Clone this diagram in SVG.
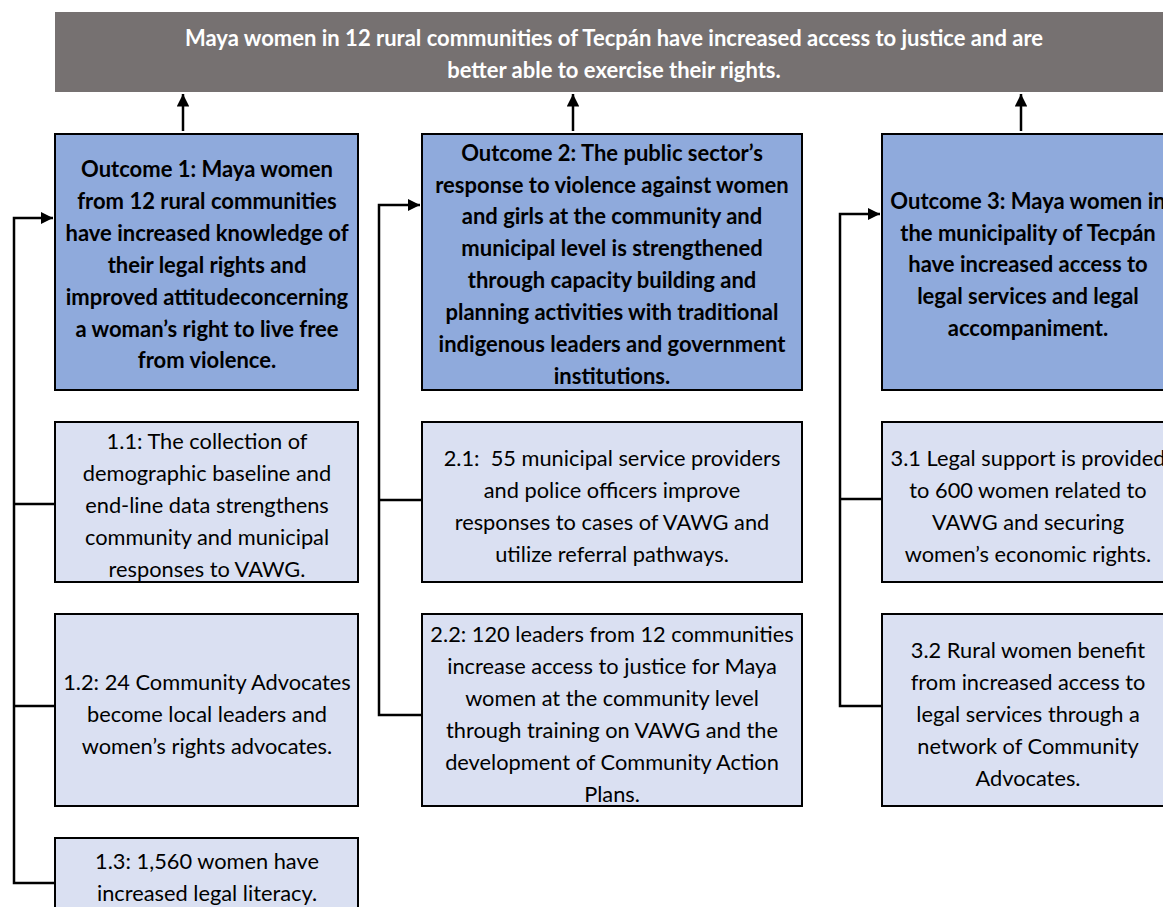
<svg xmlns="http://www.w3.org/2000/svg" width="1163" height="907" viewBox="0 0 1163 907">
<defs>
<marker id="ah" viewBox="0 0 10 10" refX="10" refY="5" markerWidth="5" markerHeight="5" orient="auto" markerUnits="strokeWidth">
<path d="M0,0 L10,5 L0,10 z" fill="#000"/>
</marker>
<style>
.goal{fill:#767171}
.out{fill:#8faadc;stroke:#000;stroke-width:2}
.op{fill:#dae0f2;stroke:#000;stroke-width:2}
.tw{font-family:Lato,"Liberation Sans",sans-serif;font-weight:bold;font-size:22px;fill:#fff;text-anchor:middle}
.tb{font-family:Lato,"Liberation Sans",sans-serif;font-weight:bold;font-size:22px;fill:#000;text-anchor:middle}
.tr{font-family:Lato,"Liberation Sans",sans-serif;font-size:21.8px;fill:#000;text-anchor:middle}
.c{fill:none;stroke:#000;stroke-width:2.5}
</style>
</defs>
<rect width="1163" height="907" fill="#fff"/>
<g id="goal">
<rect class="goal" x="55" y="12" width="1120" height="80"/>
<text class="tw" x="614" y="46">Maya women in 12 rural communities of Tecpán have increased access to justice and are</text>
<text class="tw" x="614" y="78">better able to exercise their rights.</text>
</g>
<g id="outcome1">
<rect class="out" x="55" y="134" width="303" height="256"/>
<text class="tb" x="207" y="177">Outcome 1: Maya women</text>
<text class="tb" x="207" y="209">from 12 rural communities</text>
<text class="tb" x="207" y="241">have increased knowledge of</text>
<text class="tb" x="207" y="273">their legal rights and</text>
<text class="tb" x="207" y="305">improved attitudeconcerning</text>
<text class="tb" x="207" y="337">a woman’s right to live free</text>
<text class="tb" x="207" y="368">from violence.</text>
</g>
<g id="outcome2">
<rect class="out" x="422" y="134" width="380" height="256"/>
<text class="tb" x="612" y="161">Outcome 2: The public sector’s</text>
<text class="tb" x="612" y="193">response to violence against women</text>
<text class="tb" x="612" y="224">and girls at the community and</text>
<text class="tb" x="612" y="256">municipal level is strengthened</text>
<text class="tb" x="612" y="288">through capacity building and</text>
<text class="tb" x="612" y="320">planning activities with traditional</text>
<text class="tb" x="612" y="352">indigenous leaders and government</text>
<text class="tb" x="612" y="384">institutions.</text>
</g>
<g id="outcome3">
<rect class="out" x="882" y="134" width="292" height="256"/>
<text class="tb" x="1028" y="209">Outcome 3: Maya women in</text>
<text class="tb" x="1028" y="241">the municipality of Tecpán</text>
<text class="tb" x="1028" y="272">have increased access to</text>
<text class="tb" x="1028" y="304">legal services and legal</text>
<text class="tb" x="1028" y="336">accompaniment.</text>
</g>
<g id="output1-1">
<rect class="op" x="55" y="422" width="303" height="160"/>
<text class="tr" x="207" y="449">1.1: The collection of</text>
<text class="tr" x="207" y="481">demographic baseline and</text>
<text class="tr" x="207" y="513">end-line data strengthens</text>
<text class="tr" x="207" y="545">community and municipal</text>
<text class="tr" x="207" y="577">responses to VAWG.</text>
</g>
<g id="output1-2">
<rect class="op" x="55" y="614" width="303" height="192"/>
<text class="tr" x="207" y="690">1.2: 24 Community Advocates</text>
<text class="tr" x="207" y="722">become local leaders and</text>
<text class="tr" x="207" y="754">women’s rights advocates.</text>
</g>
<g id="output1-3">
<rect class="op" x="55" y="838" width="303" height="90"/>
<text class="tr" x="207" y="869">1.3: 1,560 women have</text>
<text class="tr" x="207" y="901">increased legal literacy.</text>
</g>
<g id="output2-1">
<rect class="op" x="422" y="422" width="380" height="160"/>
<text class="tr" x="612" y="466">2.1:&#160; 55 municipal service providers</text>
<text class="tr" x="612" y="498">and police officers improve</text>
<text class="tr" x="612" y="530">responses to cases of VAWG and</text>
<text class="tr" x="612" y="562">utilize referral pathways.</text>
</g>
<g id="output2-2">
<rect class="op" x="422" y="614" width="380" height="192"/>
<text class="tr" x="612" y="642">2.2: 120 leaders from 12 communities</text>
<text class="tr" x="612" y="674">increase access to justice for Maya</text>
<text class="tr" x="612" y="706">women at the community level</text>
<text class="tr" x="612" y="738">through training on VAWG and the</text>
<text class="tr" x="612" y="770">development of Community Action</text>
<text class="tr" x="612" y="802">Plans.</text>
</g>
<g id="output3-1">
<rect class="op" x="882" y="422" width="292" height="160"/>
<text class="tr" x="1028" y="466">3.1 Legal support is provided</text>
<text class="tr" x="1028" y="498">to 600 women related to</text>
<text class="tr" x="1028" y="530">VAWG and securing</text>
<text class="tr" x="1028" y="562">women’s economic rights.</text>
</g>
<g id="output3-2">
<rect class="op" x="882" y="614" width="292" height="192"/>
<text class="tr" x="1028" y="658">3.2 Rural women benefit</text>
<text class="tr" x="1028" y="690">from increased access to</text>
<text class="tr" x="1028" y="722">legal services through a</text>
<text class="tr" x="1028" y="754">network of Community</text>
<text class="tr" x="1028" y="786">Advocates.</text>
</g>
<g id="connectors">
<path class="c" d="M183,131 V94" marker-end="url(#ah)"/>
<path class="c" d="M573,131 V94" marker-end="url(#ah)"/>
<path class="c" d="M1021,131 V94" marker-end="url(#ah)"/>
<path class="c" d="M55,883 H14 V218 H53" marker-end="url(#ah)"/>
<path class="c" d="M14,504 H55 M14,706 H55"/>
<path class="c" d="M422,715 H379 V205 H420" marker-end="url(#ah)"/>
<path class="c" d="M379,500 H422"/>
<path class="c" d="M882,706 H840 V214 H880" marker-end="url(#ah)"/>
<path class="c" d="M840,499 H882"/>
</g>
</svg>
